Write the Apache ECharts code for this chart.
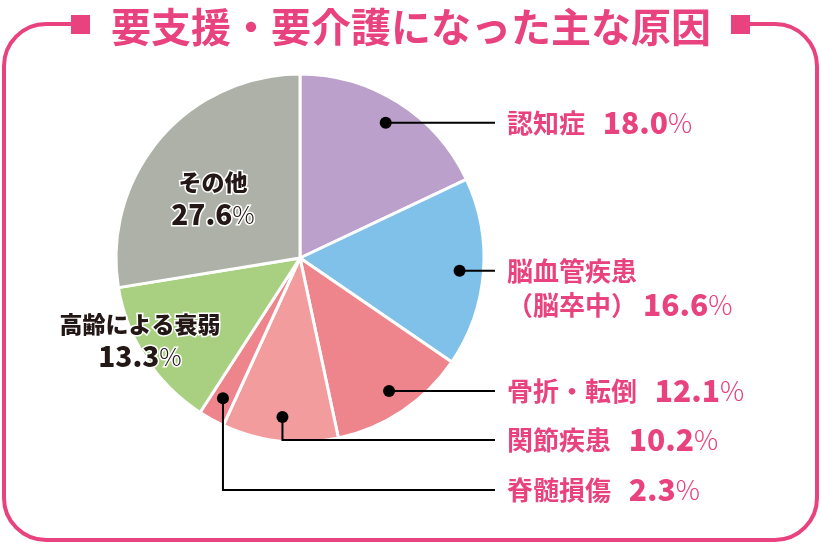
<!DOCTYPE html>
<html><head><meta charset="utf-8">
<script src="https://cdn.jsdelivr.net/npm/echarts@6/dist/echarts.min.js"></script>
<style>html,body{margin:0;padding:0;background:#fff}#c{width:822px;height:545px}</style>
</head><body><div id="c"></div>
<script>
const titleText = '要支援・要介護になった主な原因';
const categories = ['認知症','脳血管疾患（脳卒中）','骨折・転倒','関節疾患','脊髄損傷','高齢による衰弱','その他'];
const values = [18.0, 16.6, 12.1, 10.2, 2.3, 13.3, 27.6];
const colors = ['#BBA0CB','#80C1E9','#EF858C','#F29C9D','#EF858C','#A9D081','#ADB1A7'];

const PINK = '#E8437E';
const FONT = '"Noto Sans CJK JP", "Noto Sans", sans-serif';
const CX = 300, CY = 258, R = 184;
const LINE_END_X = 495, LABEL_X = 507;
const DOT_R = 0.87 * R;
const total = values.reduce((a, b) => a + b, 0);
let acc = 0;
const mids = values.map(v => {
  const a0 = 90 - acc / total * 360; acc += v;
  const a1 = 90 - acc / total * 360;
  return (a0 + a1) / 2;
});
const dots = mids.map(a => [CX + DOT_R * Math.cos(a * Math.PI / 180), CY - DOT_R * Math.sin(a * Math.PI / 180)]);
// label rows for the elbow leaders (layout, not data)
const elbowRowY = {3: 440, 4: 490};
const innerPos = {5: [140, 340], 6: [213, 198]};

function labelY(i) { return elbowRowY[i] != null ? elbowRowY[i] : dots[i][1]; }

const fmtVal = v => v.toFixed(1);
const data = categories.map((name, i) => {
  const inside = innerPos[i] != null;
  let text;
  if (inside) {
    text = '{in|' + name + '}\n{iv|' + fmtVal(values[i]) + '}{ip|%}';
  } else {
    const k = name.indexOf('（');
    if (k > 0) text = '{n|' + name.slice(0, k) + '}\n{n|' + name.slice(k) + ' }{v|' + fmtVal(values[i]) + '}{p|%}';
    else text = '{n|' + name + '   }{v|' + fmtVal(values[i]) + '}{p|%}';
  }
  return { name, value: values[i], itemStyle: { color: colors[i] }, label: { formatter: text } };
});

const graphics = [
  { type: 'rect', z: 0, shape: { x: 4, y: 24, width: 813, height: 516, r: 42 }, style: { fill: 'none', stroke: PINK, lineWidth: 4 } },
  { type: 'rect', z: 1, shape: { x: 88, y: 0, width: 645, height: 44 }, style: { fill: '#fff' } },
  { type: 'rect', z: 2, shape: { x: 71, y: 15, width: 19, height: 19 }, style: { fill: PINK } },
  { type: 'rect', z: 2, shape: { x: 731, y: 15, width: 19, height: 19 }, style: { fill: PINK } },
  { type: 'text', z: 3, style: { text: titleText, x: 411, y: 27, align: 'center', verticalAlign: 'middle', fill: PINK, font: 'bold 40px ' + FONT } }
];
for (let i = 0; i < 5; i++) {
  const [dx, dy] = dots[i];
  const ly = labelY(i);
  const pts = elbowRowY[i] != null ? [[dx, dy], [dx, ly], [LINE_END_X, ly]] : [[dx, dy], [LINE_END_X, dy]];
  graphics.push({ type: 'polyline', z: 20, shape: { points: pts }, style: { stroke: '#000', lineWidth: 2, fill: null } });
  graphics.push({ type: 'circle', z: 21, shape: { cx: dx, cy: dy, r: 6 }, style: { fill: '#000' } });
}

const chart = echarts.init(document.getElementById('c'), null, { renderer: 'canvas' });
chart.setOption({
  animation: false,
  backgroundColor: '#fff',
  textStyle: { fontFamily: FONT },
  graphic: { elements: graphics },
  series: [{
    type: 'pie',
    z: 5,
    center: [CX, CY],
    radius: R,
    startAngle: 90,
    clockwise: true,
    itemStyle: { borderColor: '#fff', borderWidth: 3 },
    emphasis: { disabled: true },
    labelLine: { show: false },
    label: {
      show: true,
      position: 'outside',
      overflow: 'none',
      width: 400,
      edgeDistance: 0,
      fontFamily: FONT,
      lineHeight: 34,
      rich: {
        n: { fontFamily: FONT, fontSize: 26, fontWeight: 'bold', color: PINK, lineHeight: 34 },
        v: { fontFamily: FONT, fontSize: 30, fontWeight: 900, color: PINK, lineHeight: 34 },
        p: { fontFamily: FONT, fontSize: 27, fontWeight: 300, color: PINK, lineHeight: 34 },
        in: { fontFamily: FONT, fontSize: 23, fontWeight: 900, color: '#231815', textBorderColor: '#fff', textBorderWidth: 3, lineHeight: 32, align: 'center' },
        iv: { fontFamily: FONT, fontSize: 28, fontWeight: 900, color: '#231815', textBorderColor: '#fff', textBorderWidth: 3, lineHeight: 32 },
        ip: { fontFamily: FONT, fontSize: 25, fontWeight: 300, color: '#231815', textBorderColor: '#fff', textBorderWidth: 3, lineHeight: 32 }
      }
    },
    labelLayout: function (p) {
      const i = p.dataIndex;
      if (innerPos[i]) return { x: innerPos[i][0], y: innerPos[i][1], align: 'center', verticalAlign: 'middle' };
      return { x: LABEL_X, y: labelY(i) - 17, align: 'left', verticalAlign: 'top' };
    },
    data: data
  }]
});
</script></body></html>
